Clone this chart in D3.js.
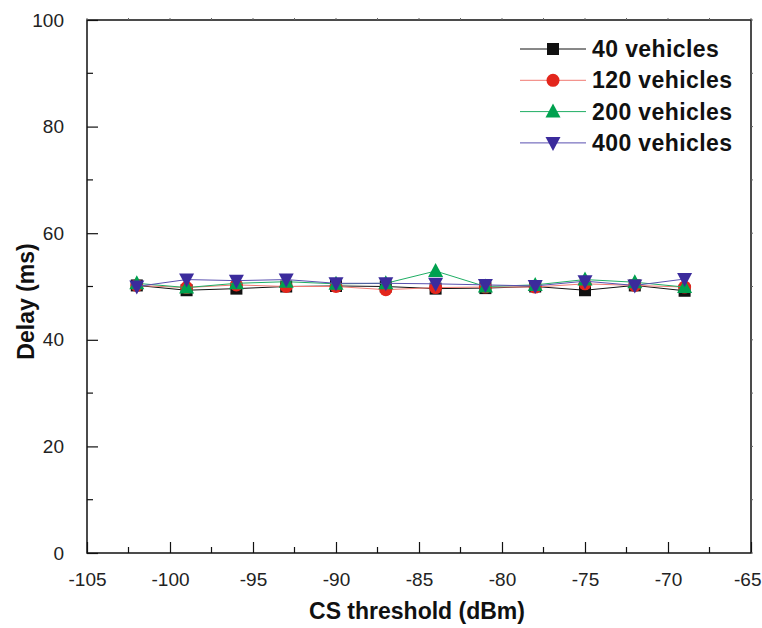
<!DOCTYPE html>
<html>
<head>
<meta charset="utf-8">
<script src="https://cdn.jsdelivr.net/npm/d3@7"></script>
<style>
	body { margin: 0; background: #fff; }
	svg text { font-family: "Liberation Sans", Arial, sans-serif; }
</style>
</head>
<body>
<div id="chart"></div>
<script>
// CS threshold values (dBm)
var thresholds = [-102, -99, -96, -93, -90, -87, -84, -81, -78, -75, -72, -69];

// delay (ms) per series
var delay40  = [50.2, 49.3, 49.6, 50.0, 50.1, 50.0, 49.6, 49.7, 50.0, 49.3, 50.2, 49.2];
var delay120 = [50.2, 49.8, 50.3, 50.0, 50.0, 49.4, 49.8, 49.9, 49.9, 50.5, 50.2, 49.9];
var delay200 = [50.6, 49.8, 50.6, 50.9, 50.5, 50.6, 52.9, 50.0, 50.3, 51.3, 50.8, 49.9];
var delay400 = [50.0, 51.3, 51.1, 51.3, 50.6, 50.6, 50.5, 50.3, 50.1, 51.0, 50.2, 51.4];

var seriesNames = ["40 vehicles", "120 vehicles", "200 vehicles", "400 vehicles"];
var seriesColors = ["#111111", "#e3261c", "#00a14f", "#3b2b9c"];
var lineColors = ["#111111", "#f07a72", "#1fae64", "#5a50b0"];
var seriesShapes = ["square", "circle", "triangle", "triangleDown"];

var xTicks = [-105, -100, -95, -90, -85, -80, -75, -70, -65];
var yTicks = [0, 20, 40, 60, 80, 100];

var width = 762, height = 628;
var plot = {left: 87, right: 751, top: 20, bottom: 553};

var svg = d3.select("#chart").append("svg")
	.attr("width", width)
	.attr("height", height);

var x = d3.scaleLinear().domain([-105, -65]).range([plot.left, plot.right]);
var y = d3.scaleLinear().domain([0, 100]).range([plot.bottom, plot.top]);

// frame
svg.append("rect")
	.attr("x", plot.left)
	.attr("y", plot.top)
	.attr("width", plot.right - plot.left)
	.attr("height", plot.bottom - plot.top)
	.attr("fill", "none")
	.attr("stroke", "#111")
	.attr("stroke-width", 1.5);

var xMinor = d3.range(-102.5, -65, 5);
var yMinor = d3.range(10, 100, 20);

// bottom axis, ticks inward
var bottomAxis = svg.append("g")
	.attr("transform", "translate(0," + plot.bottom + ")")
	.call(d3.axisBottom(x).tickValues(xTicks).tickSizeInner(-11).tickSizeOuter(0).tickPadding(20).tickFormat(d3.format("d")));
bottomAxis.select(".domain").remove();
bottomAxis.selectAll("line").attr("stroke", "#111").attr("stroke-width", 1.2);
bottomAxis.selectAll("text")
	.attr("font-size", 19)
	.attr("fill", "#222")
	.text(function(d){ return String(d); });
// last label sits at the window edge
bottomAxis.selectAll("text")
	.filter(function(d){ return d == -65; })
	.attr("text-anchor", "end")
	.attr("x", 10);

bottomAxis.selectAll(".minor")
	.data(xMinor)
	.enter().append("line")
		.attr("class", "minor")
		.attr("x1", function(d){ return x(d); })
		.attr("x2", function(d){ return x(d); })
		.attr("y1", 0)
		.attr("y2", -6)
		.attr("stroke", "#111")
		.attr("stroke-width", 1.2);

// left axis, ticks inward
var leftAxis = svg.append("g")
	.attr("transform", "translate(" + plot.left + ",0)")
	.call(d3.axisLeft(y).tickValues(yTicks).tickSizeInner(-11).tickSizeOuter(0).tickPadding(23));
leftAxis.select(".domain").remove();
leftAxis.selectAll("line").attr("stroke", "#111").attr("stroke-width", 1.2);
leftAxis.selectAll("text")
	.attr("font-size", 19)
	.attr("fill", "#222");

leftAxis.selectAll(".minor")
	.data(yMinor)
	.enter().append("line")
		.attr("class", "minor")
		.attr("x1", 0)
		.attr("x2", 6)
		.attr("y1", function(d){ return y(d); })
		.attr("y2", function(d){ return y(d); })
		.attr("stroke", "#111")
		.attr("stroke-width", 1.2);

// tiny ticks on top and right
svg.append("g").selectAll("line")
	.data(xTicks.concat(xMinor))
	.enter().append("line")
		.attr("x1", function(d){ return x(d); })
		.attr("x2", function(d){ return x(d); })
		.attr("y1", plot.top)
		.attr("y2", plot.top - 2)
		.attr("stroke", "#666");

svg.append("g").selectAll("line")
	.data(yTicks.concat(yMinor))
	.enter().append("line")
		.attr("x1", plot.right)
		.attr("x2", plot.right + 2)
		.attr("y1", function(d){ return y(d); })
		.attr("y2", function(d){ return y(d); })
		.attr("stroke", "#666");

// axis titles
svg.append("text")
	.attr("x", 417)
	.attr("y", 619)
	.attr("text-anchor", "middle")
	.attr("font-size", 23)
	.attr("font-weight", "bold")
	.attr("fill", "#111")
	.text("CS threshold (dBm)");

svg.append("text")
	.attr("transform", "translate(34," + ((plot.top + plot.bottom) / 2 + 15) + ") rotate(-90)")
	.attr("text-anchor", "middle")
	.attr("font-size", 23)
	.attr("font-weight", "bold")
	.attr("fill", "#111")
	.text("Delay (ms)");

function drawMarker(sel, shape, color)
{
	if (shape == "square")
	{
		sel.append("rect")
			.attr("x", -6).attr("y", -6)
			.attr("width", 12).attr("height", 12)
			.attr("fill", color);
	}
	else if (shape == "circle")
	{
		sel.append("circle")
			.attr("r", 6.5)
			.attr("fill", color);
	}
	else if (shape == "triangle")
	{
		sel.append("path")
			.attr("d", "M0,-8L7.5,6L-7.5,6Z")
			.attr("fill", color);
	}
	else
	{
		sel.append("path")
			.attr("d", "M0,8L7.5,-6L-7.5,-6Z")
			.attr("fill", color);
	}
}

var allSeries = [delay40, delay120, delay200, delay400];

var line = d3.line()
	.x(function(d){ return x(d[0]); })
	.y(function(d){ return y(d[1]); });

allSeries.forEach(function(values, i)
{
	var pts = thresholds.map(function(t, j){ return [t, values[j]]; });
	var g = svg.append("g").attr("class", "series");

	g.append("path")
		.datum(pts)
		.attr("d", line)
		.attr("fill", "none")
		.attr("stroke", lineColors[i])
		.attr("stroke-width", 1);

	g.selectAll(".pt")
		.data(pts)
		.enter().append("g")
			.attr("class", "pt")
			.attr("transform", function(d){ return "translate(" + x(d[0]) + "," + y(d[1]) + ")"; })
			.each(function(){ drawMarker(d3.select(this), seriesShapes[i], seriesColors[i]); });
});

// legend
var legend = svg.append("g").attr("transform", "translate(520,49)");
seriesNames.forEach(function(name, i)
{
	var row = legend.append("g").attr("transform", "translate(0," + (i * 31.3) + ")");
	row.append("line")
		.attr("x1", 0).attr("x2", 66)
		.attr("stroke", lineColors[i])
		.attr("stroke-width", 1);
	drawMarker(row.append("g").attr("transform", "translate(33,0)"), seriesShapes[i], seriesColors[i]);
	row.append("text")
		.attr("x", 72)
		.attr("y", 8)
		.attr("font-size", 23)
		.attr("font-weight", "bold")
		.attr("letter-spacing", 0.4)
		.attr("fill", "#111")
		.text(name);
});
</script>
</body>
</html>
